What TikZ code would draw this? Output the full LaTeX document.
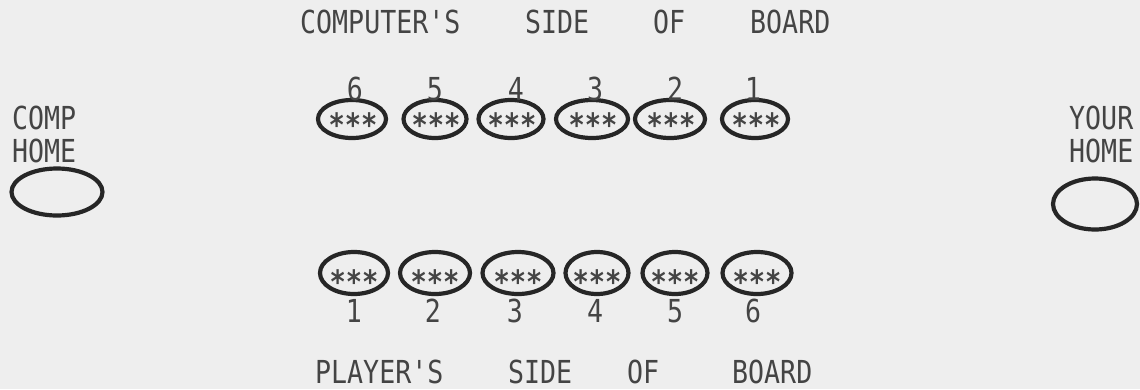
\documentclass[tikz,border=0pt]{standalone}
\usepackage{fontspec}
\setmonofont{DejaVu Sans Mono}
\usetikzlibrary{shapes.geometric,calc}
\definecolor{paper}{HTML}{EEEEEE}
\definecolor{ink}{HTML}{262626}
\definecolor{typeink}{HTML}{444444}
\newcommand{\tallmono}[1]{\scalebox{1}[1.19]{#1}}
\tikzset{
  lbl/.style={inner sep=0pt, text=typeink, font=\ttfamily\fontsize{26.6}{30}\selectfont, anchor=base west},
  num/.style={inner sep=0pt, text=typeink, font=\ttfamily\fontsize{26.6}{30}\selectfont, anchor=base},
  stars/.style={inner sep=0pt, text=typeink, font=\ttfamily\bfseries\fontsize{27}{30}\selectfont, anchor=base},
  pit/.style={ellipse, draw=ink, line width=4.2pt, inner sep=0pt, minimum height=38pt},
  home/.style={ellipse, draw=ink, line width=4.2pt, inner sep=0pt},
}
\begin{document}
\begin{tikzpicture}[x=1pt,y=-1pt]
\path[use as bounding box, fill=paper] (0,0) rectangle (1140,389);

% titles
\node[lbl] (t1) at (300,33) {\tallmono{COMPUTER'S}};
\node[lbl] (t2) at (525,33) {\tallmono{SIDE}};
\node[lbl] (t3) at (653,33) {\tallmono{OF}};
\node[lbl] (t4) at (750,33) {\tallmono{BOARD}};

\node[lbl] (b1) at (315,383) {\tallmono{PLAYER'S}};
\node[lbl] (b2) at (508,383) {\tallmono{SIDE}};
\node[lbl] (b3) at (627,383) {\tallmono{OF}};
\node[lbl] (b4) at (732,383) {\tallmono{BOARD}};

% homes
\node[lbl] (cl1) at (12,129) {\tallmono{COMP}};
\node[lbl] (cl2) at (12,162) {\tallmono{HOME}};
\node[home, minimum width=91pt, minimum height=47pt] (chome) at (57,192) {};
\node[lbl] (yl1) at (1069,129) {\tallmono{YOUR}};
\node[lbl] (yl2) at (1069,162) {\tallmono{HOME}};
\node[home, minimum width=84pt, minimum height=51pt] (yhome) at (1095,204) {};

% computer pits
\foreach \n/\x/\w/\nx in {6/352/68/355, 5/435/63/435, 4/511/65/516, 3/592/72/595, 2/670/70/675, 1/755/66/753}{
  \node[pit, minimum width=\w pt] (c\n) at (\x,119) {};
  \node[stars] (cs\n) at ($(c\n)+(1,17)$) {\tallmono{***}};
  \node[num] (cn\n) at (\nx,100) {\tallmono{\n}};
}
% player pits
\foreach \n/\x/\w/\nx in {1/354/68/354, 2/435/70/433, 3/518/71/515, 4/597/63/595, 5/675/65/675, 6/757/69/753}{
  \node[pit, minimum width=\w pt, minimum height=42pt] (p\n) at (\x,273) {};
  \node[stars] (ps\n) at ($(p\n)+(0,20)$) {\tallmono{***}};
  \node[num] (pn\n) at (\nx,322) {\tallmono{\n}};
}
\end{tikzpicture}
\end{document}
